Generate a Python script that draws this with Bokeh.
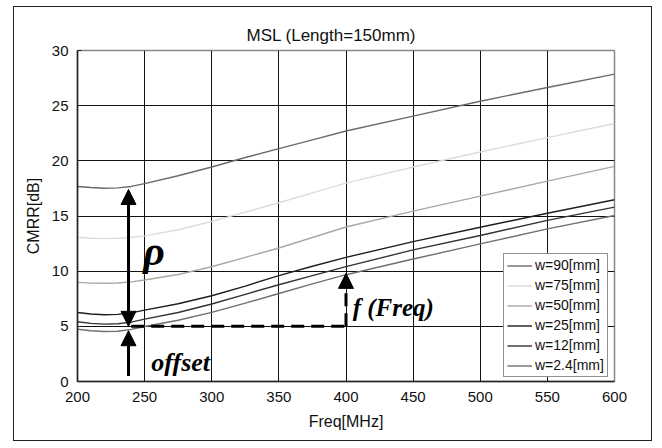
from bokeh.plotting import figure
from bokeh.models import (Range1d, SingleIntervalTicker, Legend, LegendItem,
                          Arrow, NormalHead, Label)
from bokeh.embed import file_html
from bokeh.resources import INLINE

# ---- data ----
freq = [200, 210, 220, 230, 240, 250, 275, 300, 325, 350, 375, 400, 450, 500, 550, 600]
w90 = [17.68, 17.58, 17.52, 17.55, 17.68, 17.93, 18.65, 19.44, 20.30, 21.10, 21.90, 22.70, 24.05, 25.40, 26.65, 27.86]
w75 = [13.07, 12.98, 12.95, 12.98, 13.07, 13.20, 13.75, 14.50, 15.35, 16.20, 17.10, 17.98, 19.44, 20.80, 22.10, 23.38]
w50 = [8.98, 8.92, 8.90, 8.93, 9.03, 9.20, 9.70, 10.40, 11.25, 12.10, 13.05, 14.00, 15.44, 16.80, 18.16, 19.50]
w25 = [6.26, 6.12, 6.05, 6.08, 6.22, 6.47, 7.05, 7.77, 8.65, 9.60, 10.45, 11.25, 12.68, 13.98, 15.25, 16.47]
w12 = [5.41, 5.27, 5.20, 5.23, 5.38, 5.65, 6.25, 7.02, 7.90, 8.77, 9.60, 10.41, 11.93, 13.23, 14.60, 15.80]
w2_4 = [4.74, 4.60, 4.53, 4.56, 4.72, 4.98, 5.55, 6.26, 7.10, 7.98, 8.85, 9.68, 11.10, 12.47, 13.83, 15.05]

series = [w90, w75, w50, w25, w12, w2_4]
series_labels = ["w=90[mm]", "w=75[mm]", "w=50[mm]", "w=25[mm]", "w=12[mm]", "w=2.4[mm]"]
series_colors = ["#6a6a6a", "#dcdcdc", "#a8a8a8", "#1e1e1e", "#333333", "#707070"]

title_text = "MSL (Length=150mm)"
x_label = "Freq[MHz]"
y_label = "CMRR[dB]"

# annotation anchors (data units)
rho_x = 238
rho_top = 17.4
offset_level = 5.0
offset_arrow_start = 0.5
offset_arrow_end = 4.6
f_x = 400
f_arrow_end = 9.8

SANS = "Liberation Sans"
SERIF = "Liberation Serif"

p = figure(width=639, height=435, x_range=Range1d(200, 600), y_range=Range1d(0, 30),
           output_backend="svg", toolbar_location=None,
           min_border_left=63, min_border_right=39, min_border_top=43, min_border_bottom=61,
           title=title_text)
p.margin = (6, 0, 0, 13)
p.styles = {"border": "1px solid #222222"}
p.background_fill_color = "white"
p.border_fill_color = "white"
p.outline_line_color = "#888888"
p.outline_line_width = 1.5

p.title.align = "left"
p.title.offset = 169
p.title.text_font = SANS
p.title.text_font_size = "17px"
p.title.text_font_style = "normal"
p.title.text_color = "#111111"
p.title.standoff = 12

p.xaxis.ticker = SingleIntervalTicker(interval=50)
p.yaxis.ticker = SingleIntervalTicker(interval=5)
p.xgrid.ticker = p.xaxis.ticker
p.ygrid.ticker = p.yaxis.ticker
for g in (p.xgrid, p.ygrid):
    g.grid_line_color = "#111111"
    g.grid_line_width = 1
    g.grid_line_alpha = 1

for ax in (p.xaxis, p.yaxis):
    ax.axis_line_color = "#222222"
    ax.axis_line_width = 1.5
    ax.major_tick_in = 0
    ax.major_tick_out = 0
    ax.minor_tick_in = 0
    ax.minor_tick_out = 0
    ax.major_label_text_font = SANS
    ax.major_label_text_font_size = "15px"
    ax.major_label_text_color = "#111111"
    ax.axis_label_text_font = SANS
    ax.axis_label_text_font_size = "16px"
    ax.axis_label_text_font_style = "normal"
    ax.axis_label_text_color = "#111111"
p.yaxis.major_tick_in = 4
p.yaxis.major_tick_line_color = "#222222"
p.xaxis.axis_label = x_label
p.yaxis.axis_label = y_label
p.xaxis.major_label_standoff = 10
p.yaxis.major_label_standoff = 9
p.xaxis.axis_label_standoff = 8
p.yaxis.axis_label_standoff = 7

items = []
for ys, lab, col in zip(series, series_labels, series_colors):
    r = p.line(freq, ys, line_color=col, line_width=1.4)
    items.append(LegendItem(label=lab, renderers=[r]))

legend = Legend(items=items, location=(426, 4))
legend.glyph_width = 25
legend.glyph_height = 15
legend.label_height = 15
legend.spacing = 4
legend.padding = 3
legend.margin = 0
legend.label_standoff = 3
legend.label_text_font = SANS
legend.label_text_font_size = "14px"
legend.label_text_color = "#111111"
legend.border_line_color = "#222222"
legend.border_line_width = 1
legend.background_fill_color = "white"
legend.background_fill_alpha = 1
p.add_layout(legend, "center")

# ---- annotations ----
head = dict(size=15, fill_color="black", line_color="black")
p.add_layout(Arrow(start=NormalHead(**head), end=NormalHead(**head),
                   x_start=rho_x, y_start=offset_level, x_end=rho_x, y_end=rho_top,
                   line_width=3, line_color="black"))
p.add_layout(Arrow(end=NormalHead(**head),
                   x_start=rho_x, y_start=offset_arrow_start, x_end=rho_x, y_end=offset_arrow_end,
                   line_width=3, line_color="black"))
p.line([rho_x + 2, f_x], [offset_level, offset_level], line_color="black",
       line_width=3, line_dash="13 7")
p.add_layout(Arrow(end=NormalHead(**head),
                   x_start=f_x, y_start=offset_level, x_end=f_x, y_end=f_arrow_end,
                   line_width=3, line_color="black", line_dash="13 7"))

p.add_layout(Label(x=249, y=11.8, text="ρ", text_font=SERIF, text_font_style="bold italic",
                   text_font_size="42px", text_baseline="middle", text_color="black"))
p.add_layout(Label(x=255, y=1.7, text="offset", text_font=SERIF, text_font_style="bold italic",
                   text_font_size="26px", text_baseline="alphabetic", text_color="black"))
p.add_layout(Label(x=405, y=6.75, text="f (Freq)", text_font=SERIF, text_font_style="bold italic",
                   text_font_size="25px", text_baseline="alphabetic", text_color="black"))

open("out.html", "w").write(file_html(p, INLINE))
